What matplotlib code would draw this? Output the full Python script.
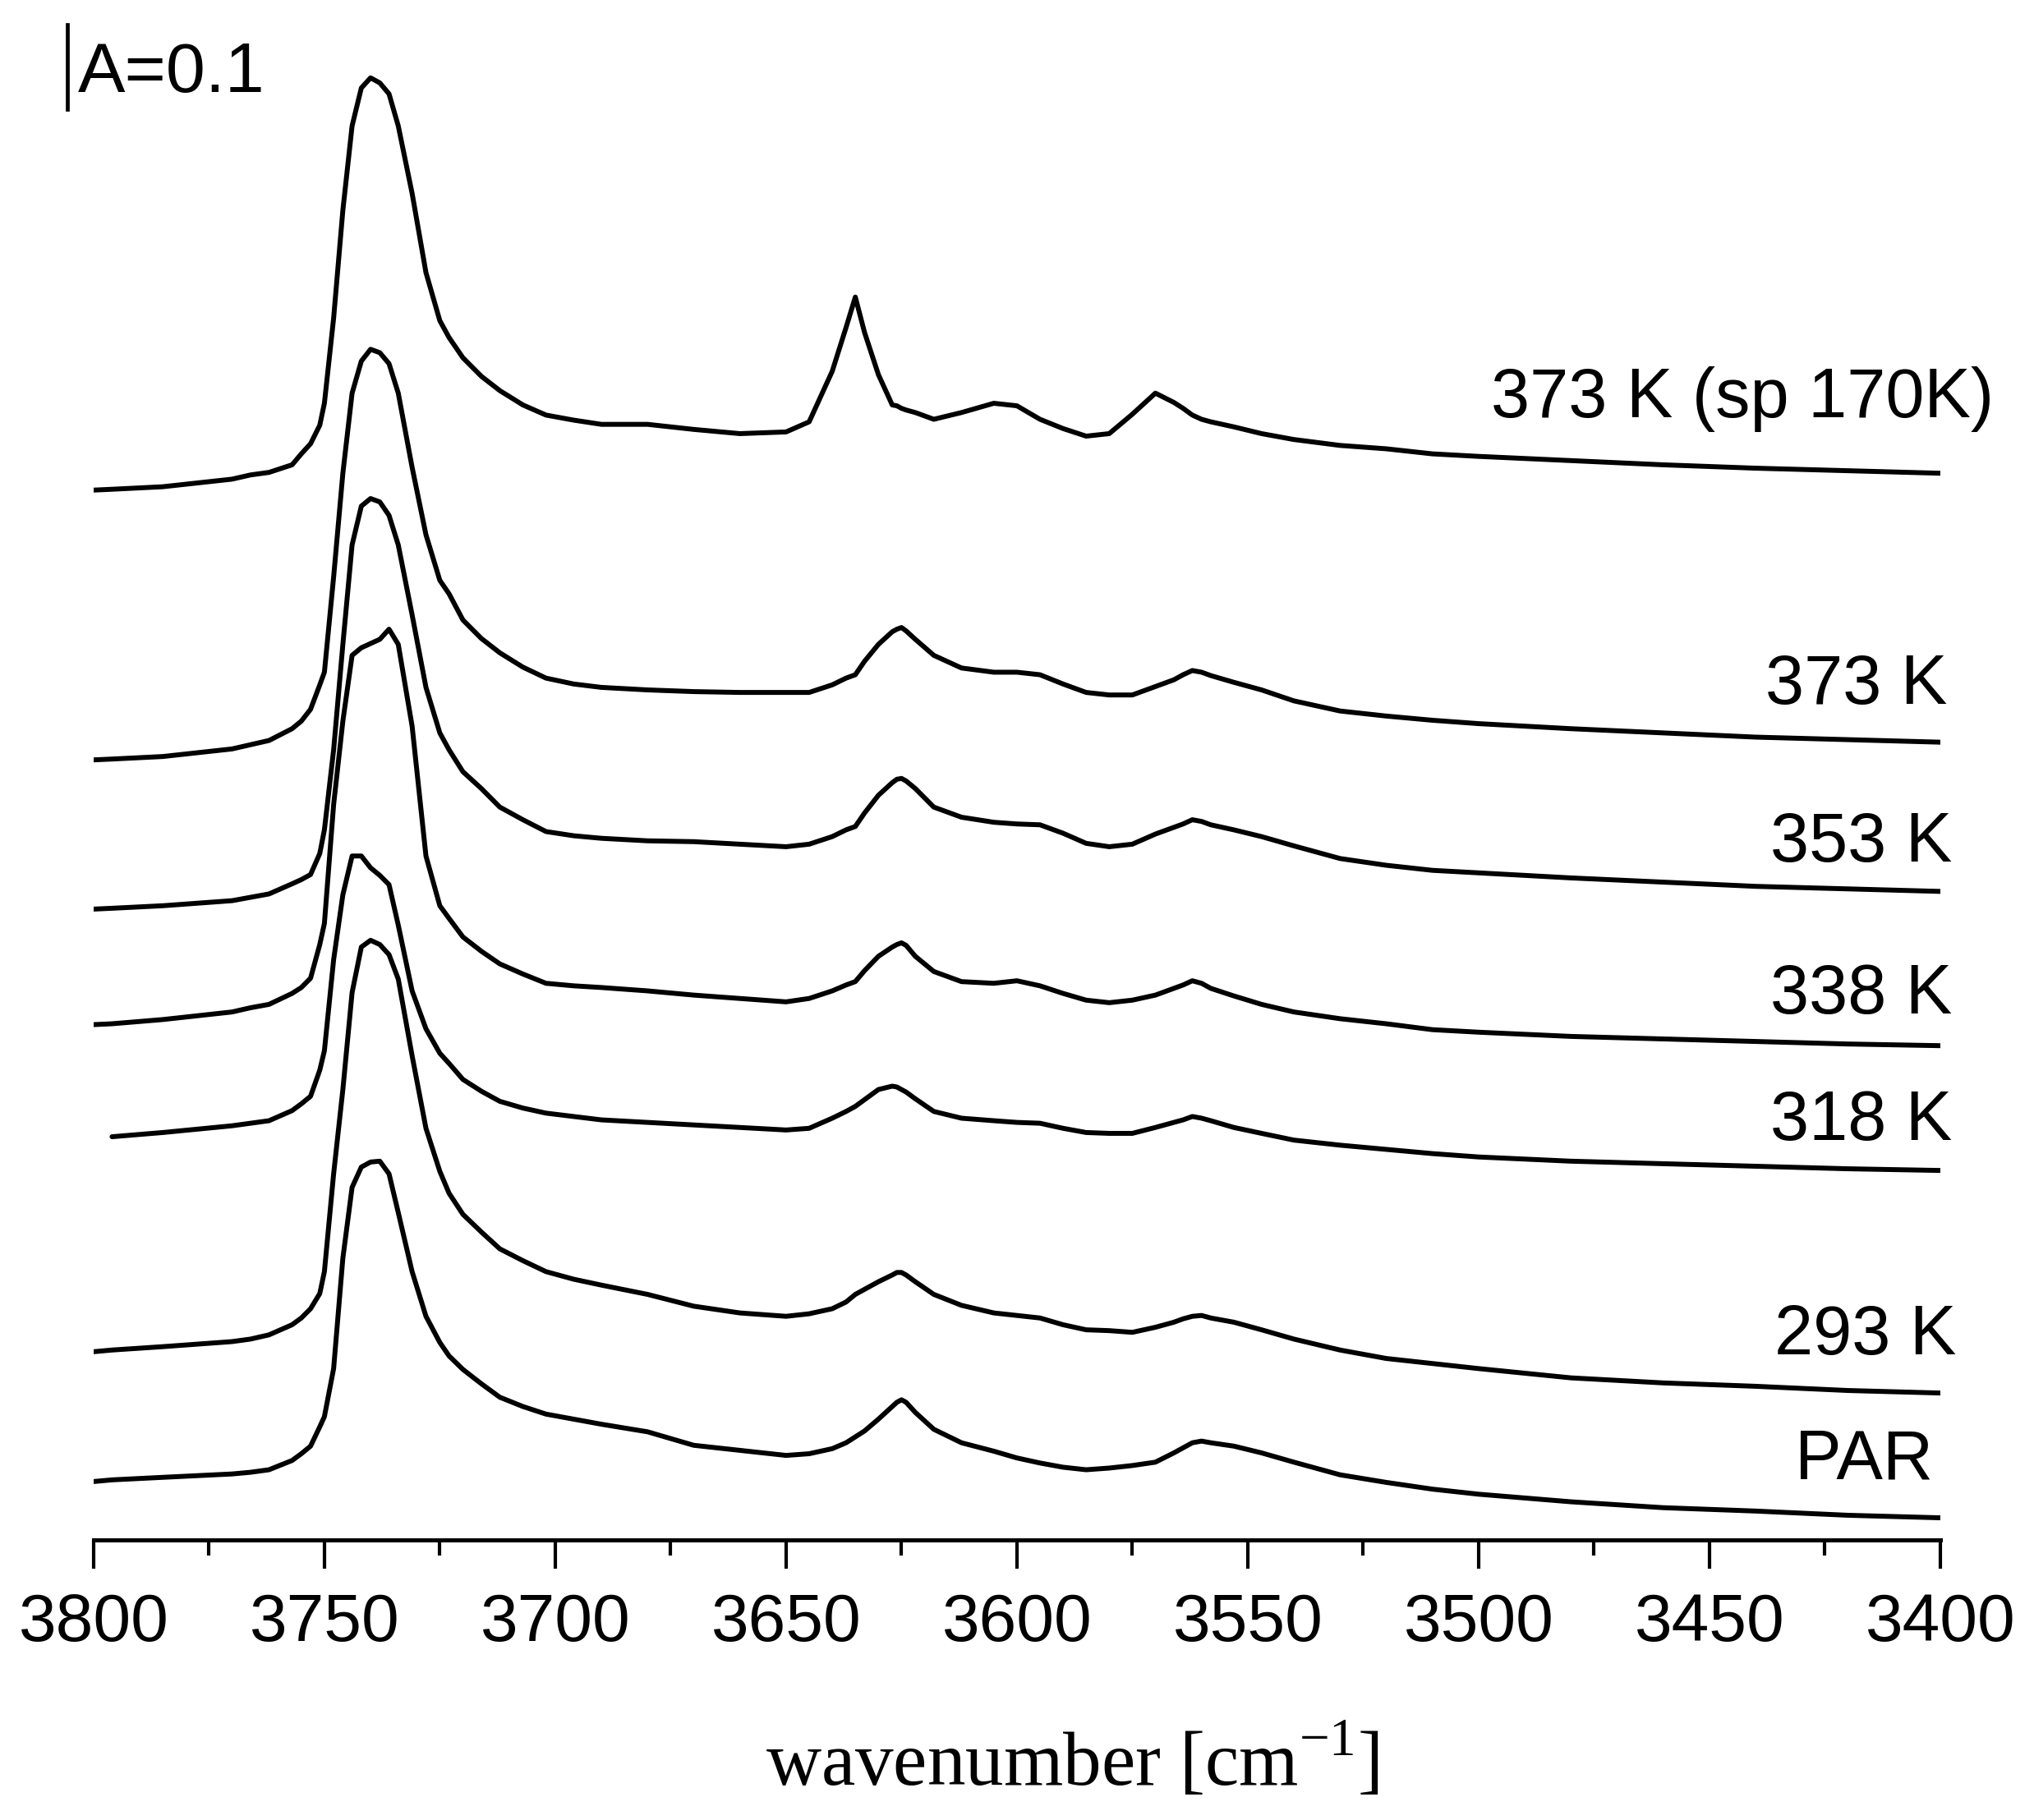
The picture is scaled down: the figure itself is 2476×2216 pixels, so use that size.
import numpy as np
import matplotlib
matplotlib.use("Agg")
from matplotlib import pyplot as plt
from matplotlib.ticker import MultipleLocator

plt.rcParams['font.family'] = ['Liberation Sans', 'DejaVu Sans']
plt.rcParams['mathtext.fontset'] = 'custom'

# wavenumber grid (cm-1) shared by all spectra
wavenumber = [3800, 3796, 3785, 3770, 3766, 3762, 3757, 3755, 3753, 3751,
              3750, 3748, 3746, 3744, 3742, 3740, 3738, 3736, 3734, 3731,
              3728, 3725, 3723, 3720, 3716, 3712, 3707, 3702, 3696, 3690,
              3680, 3670, 3660, 3650, 3645, 3640, 3637, 3635, 3633, 3630,
              3627, 3626, 3625, 3624, 3622, 3618, 3612, 3605, 3600, 3595,
              3590, 3585, 3580, 3575, 3570, 3566, 3564, 3562, 3560, 3558,
              3553, 3547, 3540, 3530, 3520, 3510, 3500, 3480, 3460, 3440,
              3420, 3400]

# stacked absorbance (offsets included)
a_373_sp170 = [1.245, 1.246, 1.249, 1.258, 1.263, 1.266, 1.275, 1.288, 1.300, 1.322,
               1.348, 1.449, 1.577, 1.677, 1.722, 1.734, 1.728, 1.715, 1.677, 1.597,
               1.503, 1.446, 1.426, 1.402, 1.380, 1.363, 1.346, 1.334, 1.328, 1.323,
               1.323, 1.317, 1.312, 1.314, 1.326, 1.386, 1.438, 1.474, 1.432, 1.382,
               1.346, 1.345, 1.342, 1.340, 1.337, 1.329, 1.337, 1.348, 1.345, 1.329,
               1.318, 1.309, 1.312, 1.335, 1.360, 1.349, 1.342, 1.334, 1.329, 1.326,
               1.320, 1.312, 1.305, 1.298, 1.294, 1.288, 1.285, 1.280, 1.275, 1.271,
               1.268, 1.265]
a_373 = [0.925, 0.926, 0.929, 0.938, 0.943, 0.948, 0.962, 0.971, 0.985, 1.014,
         1.029, 1.142, 1.265, 1.360, 1.398, 1.412, 1.408, 1.395, 1.360, 1.272,
         1.192, 1.138, 1.122, 1.091, 1.069, 1.052, 1.035, 1.022, 1.015, 1.011,
         1.008, 1.006, 1.005, 1.005, 1.005, 1.014, 1.022, 1.026, 1.042, 1.062,
         1.077, 1.080, 1.082, 1.078, 1.068, 1.049, 1.034, 1.029, 1.029, 1.026,
         1.015, 1.005, 1.002, 1.002, 1.012, 1.020, 1.026, 1.031, 1.029, 1.025,
         1.017, 1.008, 0.995, 0.983, 0.977, 0.972, 0.968, 0.962, 0.957, 0.952,
         0.949, 0.946]
a_353 = [0.748, 0.749, 0.752, 0.758, 0.762, 0.766, 0.778, 0.783, 0.789, 0.814,
         0.842, 0.937, 1.062, 1.180, 1.226, 1.235, 1.231, 1.215, 1.180, 1.097,
         1.011, 0.957, 0.937, 0.911, 0.891, 0.869, 0.854, 0.840, 0.835, 0.832,
         0.829, 0.828, 0.825, 0.822, 0.825, 0.834, 0.842, 0.846, 0.862, 0.883,
         0.898, 0.902, 0.903, 0.900, 0.891, 0.869, 0.857, 0.851, 0.849, 0.848,
         0.838, 0.826, 0.822, 0.825, 0.837, 0.845, 0.849, 0.854, 0.852, 0.848,
         0.842, 0.834, 0.823, 0.808, 0.800, 0.794, 0.791, 0.785, 0.780, 0.775,
         0.772, 0.769]
a_338 = [0.611, 0.612, 0.617, 0.626, 0.631, 0.635, 0.648, 0.655, 0.666, 0.706,
         0.731, 0.872, 0.971, 1.049, 1.058, 1.063, 1.068, 1.080, 1.062, 0.965,
         0.811, 0.752, 0.737, 0.715, 0.698, 0.683, 0.671, 0.660, 0.657, 0.655,
         0.651, 0.646, 0.642, 0.638, 0.642, 0.651, 0.658, 0.662, 0.675, 0.692,
         0.703, 0.706, 0.708, 0.705, 0.692, 0.674, 0.662, 0.660, 0.663, 0.657,
         0.648, 0.640, 0.637, 0.640, 0.646, 0.654, 0.658, 0.663, 0.660, 0.654,
         0.645, 0.635, 0.626, 0.618, 0.612, 0.605, 0.602, 0.597, 0.594, 0.591,
         0.588, 0.586]
a_318 = [np.nan, 0.478, 0.483, 0.491, 0.494, 0.497, 0.509, 0.517, 0.526, 0.557,
         0.580, 0.688, 0.765, 0.811, 0.811, 0.797, 0.788, 0.777, 0.729, 0.651,
         0.606, 0.577, 0.565, 0.546, 0.532, 0.520, 0.512, 0.506, 0.502, 0.498,
         0.495, 0.492, 0.489, 0.486, 0.488, 0.500, 0.508, 0.514, 0.522, 0.534,
         0.538, 0.537, 0.534, 0.531, 0.523, 0.508, 0.500, 0.497, 0.495, 0.494,
         0.488, 0.483, 0.482, 0.482, 0.489, 0.495, 0.498, 0.502, 0.500, 0.497,
         0.489, 0.482, 0.474, 0.468, 0.463, 0.458, 0.454, 0.449, 0.446, 0.443,
         0.440, 0.438]
a_293 = [0.223, 0.225, 0.229, 0.235, 0.238, 0.243, 0.255, 0.263, 0.274, 0.292,
         0.318, 0.434, 0.534, 0.649, 0.703, 0.711, 0.706, 0.694, 0.665, 0.574,
         0.488, 0.437, 0.411, 0.386, 0.365, 0.345, 0.331, 0.318, 0.309, 0.302,
         0.291, 0.277, 0.269, 0.265, 0.268, 0.274, 0.282, 0.291, 0.297, 0.306,
         0.314, 0.317, 0.317, 0.314, 0.306, 0.291, 0.278, 0.269, 0.266, 0.263,
         0.255, 0.249, 0.248, 0.246, 0.252, 0.258, 0.262, 0.265, 0.266, 0.263,
         0.258, 0.249, 0.238, 0.225, 0.215, 0.209, 0.203, 0.192, 0.186, 0.182,
         0.177, 0.174]
a_par = [0.069, 0.071, 0.074, 0.078, 0.080, 0.083, 0.094, 0.102, 0.111, 0.134,
         0.146, 0.203, 0.334, 0.418, 0.442, 0.448, 0.449, 0.434, 0.388, 0.318,
         0.265, 0.234, 0.218, 0.202, 0.185, 0.169, 0.158, 0.149, 0.143, 0.137,
         0.128, 0.112, 0.106, 0.100, 0.102, 0.108, 0.115, 0.122, 0.129, 0.143,
         0.158, 0.163, 0.166, 0.163, 0.151, 0.131, 0.115, 0.105, 0.097, 0.091,
         0.086, 0.083, 0.085, 0.088, 0.092, 0.103, 0.109, 0.115, 0.117, 0.115,
         0.111, 0.103, 0.092, 0.077, 0.068, 0.060, 0.054, 0.045, 0.038, 0.034,
         0.029, 0.026]

spectra = [a_373_sp170, a_373, a_353, a_338, a_318, a_293, a_par]
labels = ['373 K (sp 170K)', '373 K', '353 K', '338 K', '318 K', '293 K', 'PAR']
label_x = [3388.3, 3398.4, 3397.5, 3397.5, 3397.5, 3396.6, 3401.6]
label_y = [1.331, 0.991, 0.804, 0.624, 0.474, 0.220, 0.072]

scale_bar = 0.1

fig = plt.figure(figsize=(24.76, 22.16), dpi=100)
ax = fig.add_axes([0.0460, 0.1540, 0.9079, 0.8338])

for s in spectra:
    ax.plot(wavenumber, s, color='black', lw=4.3, solid_joinstyle='round',
            solid_capstyle='round')

for lab, lx, ly in zip(labels, label_x, label_y):
    ax.text(lx, ly, lab, fontsize=61, ha='right', va='baseline')

# absorbance scale bar
ax.plot([3805.7, 3805.7], [1.697, 1.697 + scale_bar], color='black', lw=3.4,
        clip_on=False)
ax.text(3803.4, 1.717, 'A=0.1', fontsize=62, ha='left', va='baseline')

ax.set_xlim(3800, 3400)
ax.set_ylim(0, 1.8)

for side in ['left', 'right', 'top']:
    ax.spines[side].set_visible(False)
ax.spines['bottom'].set_linewidth(3.6)

ax.xaxis.set_major_locator(MultipleLocator(50))
ax.xaxis.set_minor_locator(MultipleLocator(25))
ax.tick_params(axis='x', which='major', direction='out', length=25, width=3,
               pad=21, labelsize=59)
ax.tick_params(axis='x', which='minor', direction='out', length=13.5, width=3)
ax.tick_params(axis='y', which='both', left=False, labelleft=False)

ax.set_xlabel(r'wavenumber [cm$^{\mathregular{-1}}$]', fontsize=67,
              family='Liberation Serif')
ax.xaxis.label.set_verticalalignment('baseline')
ax.xaxis.set_label_coords(0.530, -0.162)

fig.savefig('out.png', dpi=100)
